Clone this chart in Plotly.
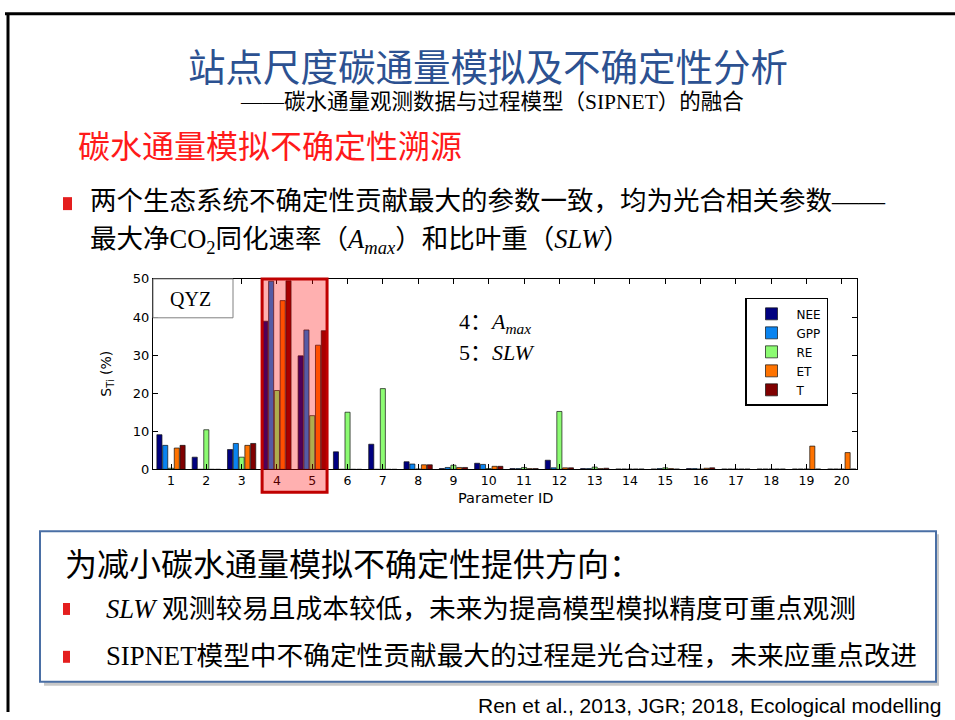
import plotly.graph_objects as go

W, H = 955, 720

# ---------------- data ----------------
params = list(range(1, 21))
series_names = ["NEE", "GPP", "RE", "ET", "T"]
series_colors = ["#000080", "#0A84F0", "#8CFB72", "#FF7300", "#800000"]
NEE = [9.1, 3.2, 5.2, 38.9, 29.8, 4.6, 6.6, 2.0, 0.2, 1.6, 0.2, 2.4, 0.2, 0.1, 0.1, 0.2, 0.1, 0.1, 0.1, 0.1]
GPP = [6.3, 0.0, 6.8, 49.4, 36.6, 0.0, 0.0, 1.4, 0.5, 1.3, 0.2, 0.4, 0.2, 0.1, 0.2, 0.2, 0.1, 0.1, 0.1, 0.1]
RE = [0.3, 10.4, 3.2, 20.7, 14.1, 15.0, 21.2, 0.1, 1.1, 0.2, 0.5, 15.2, 0.6, 0.1, 0.4, 0.1, 0.1, 0.1, 0.1, 0.1]
ET = [5.6, 0.0, 6.3, 44.3, 32.6, 0.0, 0.0, 1.2, 0.5, 0.8, 0.2, 0.4, 0.2, 0.1, 0.2, 0.3, 0.1, 0.1, 6.1, 4.4]
T = [6.3, 0.0, 6.8, 49.5, 36.4, 0.0, 0.0, 1.2, 0.5, 0.8, 0.2, 0.4, 0.3, 0.1, 0.1, 0.4, 0.1, 0.1, 0.1, 0.1]
series_values = [NEE, GPP, RE, ET, T]
y_ticks = [0, 10, 20, 30, 40, 50]
highlight_params = [4, 5]


def px(x):
    return x / W


def py(y):
    # vertical pixel (from top) -> paper coordinate, with a small calibration
    yy = (y - 5.3) / 0.982
    return 1 - yy / H


CJK = "Noto Sans CJK SC"
SERIF_CJK = "Liberation Serif, Noto Sans CJK SC"
CHART_FONT = "DejaVu Sans"

fig = go.Figure()
for name, color, vals in zip(series_names, series_colors, series_values):
    fig.add_trace(go.Bar(
        x=params, y=vals, name=name,
        marker=dict(color=color, line=dict(color="#111111", width=0.7)),
    ))

x0_dom, x1_dom = px(153), px(857)
y0_dom, y1_dom = py(469), py(278)

fig.update_layout(
    width=W, height=H,
    margin=dict(l=0, r=0, t=0, b=0),
    paper_bgcolor="white", plot_bgcolor="white",
    barmode="group", bargap=0.18, bargroupgap=0.12,
    showlegend=True,
    legend=dict(
        x=px(745), y=py(297), xanchor="left", yanchor="top",
        bgcolor="white", bordercolor="black", borderwidth=1.5,
        font=dict(family=CHART_FONT, size=12, color="black"),
        itemwidth=40, tracegroupgap=0,
    ),
    xaxis=dict(
        domain=[x0_dom, x1_dom], range=[0.49, 20.43],
        tickmode="array", tickvals=params, ticktext=[str(p) for p in params],
        ticks="inside", ticklen=5, tickcolor="black",
        showline=True, linecolor="black", linewidth=1, mirror="ticks",
        showgrid=False, zeroline=False,
        tickfont=dict(family=CHART_FONT, size=12.5, color="black"),
    ),
    yaxis=dict(
        domain=[y0_dom, y1_dom], range=[0, 50],
        tickmode="array", tickvals=y_ticks,
        ticks="inside", ticklen=5, tickcolor="black",
        showline=True, linecolor="black", linewidth=1, mirror="ticks",
        showgrid=False, zeroline=False,
        tickfont=dict(family=CHART_FONT, size=13, color="black"),
    ),
)

shapes = []
# slide frame
shapes.append(dict(type="line", xref="paper", yref="paper", x0=px(5), x1=1, y0=py(12), y1=py(12),
                   line=dict(color="black", width=3)))
shapes.append(dict(type="line", xref="paper", yref="paper", x0=px(8), x1=px(8), y0=py(12), y1=0,
                   line=dict(color="black", width=3)))
# QYZ box
shapes.append(dict(type="rect", xref="paper", yref="paper", x0=px(153), x1=px(233), y0=py(317), y1=py(278),
                   line=dict(color="#808080", width=1), fillcolor="white", layer="above"))
# highlight of parameters 4 and 5
shapes.append(dict(type="rect", xref="x", yref="paper",
                   x0=highlight_params[0] - 0.42, x1=highlight_params[-1] + 0.42,
                   y0=py(492), y1=py(278),
                   line=dict(color="#C00000", width=3), fillcolor="rgba(255,0,0,0.31)", layer="above"))
# bullets
for (bx, by, bw, bh) in [(63, 196, 9, 13), (63, 603, 7, 12), (63, 651, 7, 12)]:
    shapes.append(dict(type="rect", xref="paper", yref="paper", x0=px(bx), x1=px(bx + bw),
                       y0=py(by + bh), y1=py(by), line=dict(width=0), fillcolor="#E41E1E"))
# bottom box with shadow
shapes.append(dict(type="rect", xref="paper", yref="paper", x0=px(44), x1=px(939), y0=py(686), y1=py(534),
                   line=dict(width=0), fillcolor="#C8C8C8", layer="below"))
shapes.append(dict(type="rect", xref="paper", yref="paper", x0=px(40), x1=px(936), y0=py(682), y1=py(531),
                   line=dict(color="#4A6FA5", width=2), fillcolor="white", layer="below"))
fig.update_layout(shapes=shapes)

ann = []


def text(x, y, s, size, family=CJK, color="black", xanchor="left", **kw):
    ann.append(dict(x=px(x), y=py(y), xref="paper", yref="paper", text=s, showarrow=False,
                    xanchor=xanchor, yanchor="middle",
                    font=dict(family=family, size=size, color=color), **kw))


text(488, 63, "站点尺度碳通量模拟及不确定性分析", 37.5, color="#2C5191", xanchor="center")
text(492, 101, "——碳水通量观测数据与过程模型（SIPNET）的融合", 21.5, family=SERIF_CJK, xanchor="center")
text(76, 143, "碳水通量模拟不确定性溯源", 32, color="#FF1A1A")
text(88, 200, "两个生态系统不确定性贡献最大的参数一致，均为光合相关参数——", 26.5, family=SERIF_CJK)
text(88, 240, "最大净CO<sub>2</sub>同化速率（<i>A</i><sub><i>max</i></sub>）和比叶重（<i>SLW</i>）", 26.5,
     family=SERIF_CJK)

# chart texts
text(190, 298, "QYZ", 20, family="Liberation Serif")
ann[-1]["xanchor"] = "center"
text(457, 322, "4：<i>A</i><sub><i>max</i></sub>", 22, family=SERIF_CJK)
text(457, 352, "5：<i>SLW</i>", 22, family=SERIF_CJK)
text(506, 498, "Parameter ID", 14.5, family=CHART_FONT, xanchor="center")
text(107, 373, "S<sub>Ti</sub> (%)", 14, family=CHART_FONT, xanchor="center", textangle=-90)

# bottom box texts
text(63, 562, "为减小碳水通量模拟不确定性提供方向：", 32)
text(104, 609, "<i>SLW</i> 观测较易且成本较低，未来为提高模型模拟精度可重点观测", 26.7, family=SERIF_CJK)
text(104, 656, "SIPNET模型中不确定性贡献最大的过程是光合过程，未来应重点改进", 26.7, family=SERIF_CJK)

text(943, 705.5, "Ren et al., 2013, JGR; 2018, Ecological modelling", 21, family="Liberation Sans",
     xanchor="right")

fig.update_layout(annotations=ann)
fig.write_html(
    "out.html",
    config={"displayModeBar": False},
    post_script=("document.documentElement.style.margin='0px';"
                 "document.documentElement.style.overflow='hidden';"
                 "document.body.style.margin='0px';"
                 "document.body.style.overflow='hidden';"),
)
